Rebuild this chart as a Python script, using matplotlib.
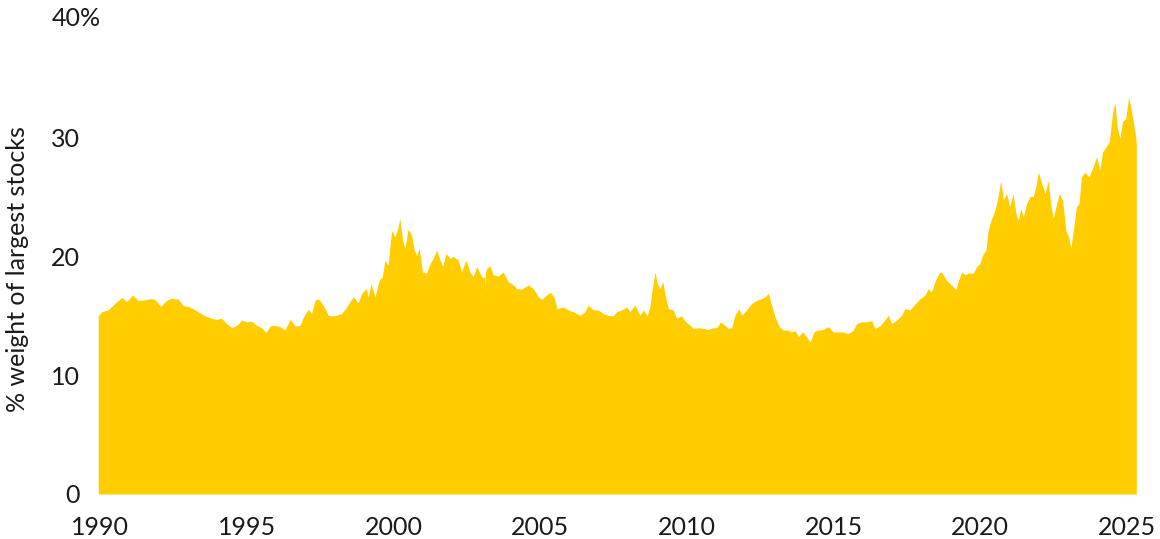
import numpy as np
import matplotlib
matplotlib.use("Agg")
import matplotlib.pyplot as plt
from matplotlib.transforms import blended_transform_factory

plt.rcParams['font.family'] = ['Lato', 'DejaVu Sans']

# % weight of the largest stocks (decimal year, percent)
years_90s = [1989.94, 1990.05, 1990.28, 1990.51, 1990.74, 1990.91, 1991.11, 1991.30, 1991.53, 1991.70,
             1991.87, 1992.07, 1992.27, 1992.44, 1992.67, 1992.84, 1993.01, 1993.24, 1993.41, 1993.58,
             1993.80, 1993.97, 1994.14, 1994.32, 1994.49, 1994.66, 1994.83, 1995.00, 1995.17, 1995.34,
             1995.51, 1995.66, 1995.80, 1995.96, 1996.13, 1996.30, 1996.48, 1996.65, 1996.82, 1996.93,
             1997.10, 1997.21, 1997.33, 1997.44, 1997.61, 1997.78, 1997.89, 1998.07, 1998.23, 1998.41,
             1998.52, 1998.63, 1998.80, 1998.92, 1999.07, 1999.14, 1999.24, 1999.37, 1999.52, 1999.62,
             1999.71, 1999.82, 1999.94]
weight_90s = [15.0, 15.35, 15.5, 16.05, 16.55, 16.2, 16.75, 16.3, 16.35, 16.45,
              16.4, 15.8, 16.3, 16.5, 16.4, 15.85, 15.8, 15.5, 15.25, 15.0,
              14.8, 14.7, 14.8, 14.35, 14.0, 14.2, 14.65, 14.5, 14.55, 14.2,
              14.0, 13.6, 14.15, 14.2, 14.1, 13.8, 14.7, 14.15, 14.2, 14.9,
              15.55, 15.2, 16.3, 16.45, 15.9, 15.05, 15.0, 15.05, 15.2, 15.75,
              16.2, 16.6, 16.1, 16.9, 17.3, 16.6, 17.7, 16.6, 18.05, 18.25,
              19.65, 19.3, 22.2]

years_00s = [2000.05, 2000.13, 2000.22, 2000.31, 2000.39, 2000.50, 2000.62, 2000.71, 2000.79, 2000.88,
             2000.99, 2001.13, 2001.25, 2001.36, 2001.47, 2001.59, 2001.68, 2001.79, 2001.93, 2002.04,
             2002.21, 2002.32, 2002.47, 2002.61, 2002.72, 2002.84, 2003.01, 2003.11, 2003.12, 2003.13,
             2003.18, 2003.29, 2003.40, 2003.57, 2003.74, 2003.91, 2004.09, 2004.20, 2004.37, 2004.60,
             2004.77, 2004.94, 2005.05, 2005.22, 2005.34, 2005.47, 2005.58, 2005.79, 2005.96, 2006.13,
             2006.36, 2006.53, 2006.64, 2006.81, 2006.98, 2007.15, 2007.32, 2007.49, 2007.61, 2007.78,
             2007.95, 2008.06, 2008.23, 2008.40, 2008.52, 2008.65, 2008.74, 2008.82, 2008.92, 2008.99,
             2009.09, 2009.18, 2009.25, 2009.37, 2009.54, 2009.65, 2009.82, 2009.97]
weight_00s = [21.65, 22.2, 23.2, 21.4, 20.7, 22.3, 21.8, 20.55, 20.1, 20.7,
              18.7, 18.6, 19.4, 19.85, 20.55, 19.7, 19.15, 20.25, 19.85, 20.0,
              19.7, 18.7, 19.7, 18.7, 18.3, 19.15, 18.3, 18.2, 16.75, 18.6,
              19.0, 19.2, 18.45, 18.35, 18.7, 17.9, 17.6, 17.3, 17.25, 17.6,
              17.3, 16.6, 16.4, 16.75, 17.0, 16.6, 15.6, 15.75, 15.5, 15.35,
              15.05, 15.35, 15.9, 15.5, 15.5, 15.2, 15.05, 15.0, 15.35, 15.5,
              15.75, 15.35, 15.9, 15.05, 15.5, 15.0, 15.75, 17.2, 18.7, 17.75,
              17.3, 17.9, 16.9, 15.6, 15.5, 14.8, 15.0, 14.5]

years_10s = [2010.11, 2010.22, 2010.39, 2010.56, 2010.73, 2010.90, 2011.02, 2011.15, 2011.30, 2011.41,
             2011.53, 2011.64, 2011.78, 2011.87, 2012.04, 2012.21, 2012.38, 2012.55, 2012.66, 2012.78,
             2012.89, 2013.01, 2013.15, 2013.29, 2013.46, 2013.57, 2013.69, 2013.80, 2013.95, 2014.08,
             2014.20, 2014.33, 2014.48, 2014.65, 2014.82, 2014.99, 2015.16, 2015.33, 2015.50, 2015.67,
             2015.79, 2015.96, 2016.13, 2016.30, 2016.41, 2016.58, 2016.75, 2016.87, 2016.98, 2017.15,
             2017.32, 2017.44, 2017.61, 2017.78, 2017.95, 2018.12, 2018.23, 2018.34, 2018.46, 2018.60,
             2018.68, 2018.85, 2019.02, 2019.17, 2019.25, 2019.37, 2019.48, 2019.59, 2019.76, 2019.88,
             2019.99]
weight_10s = [14.2, 13.95, 14.0, 13.95, 13.85, 14.0, 14.0, 14.5, 14.2, 13.95,
              14.0, 15.05, 15.6, 15.05, 15.5, 16.05, 16.3, 16.45, 16.6, 16.9,
              15.9, 14.9, 14.1, 13.8, 13.8, 13.65, 13.75, 13.25, 13.65, 13.25,
              12.8, 13.65, 13.8, 13.85, 14.1, 13.65, 13.65, 13.65, 13.5, 13.8,
              14.35, 14.5, 14.5, 14.6, 13.95, 14.15, 14.65, 15.05, 14.35, 14.65,
              15.05, 15.6, 15.5, 16.0, 16.45, 16.75, 17.3, 17.0, 17.9, 18.6,
              18.7, 18.0, 17.6, 17.2, 17.9, 18.7, 18.45, 18.6, 18.6, 19.15,
              19.4]

years_20s = [2020.08, 2020.20, 2020.27, 2020.35, 2020.44, 2020.52, 2020.61, 2020.70, 2020.79, 2020.90,
             2021.01, 2021.12, 2021.22, 2021.30, 2021.38, 2021.47, 2021.58, 2021.70, 2021.81, 2021.90,
             2021.98, 2022.10, 2022.21, 2022.32, 2022.40, 2022.49, 2022.58, 2022.70, 2022.81, 2022.92,
             2023.01, 2023.09, 2023.19, 2023.28, 2023.37, 2023.45, 2023.57, 2023.71, 2023.85, 2023.97,
             2024.08, 2024.17, 2024.29, 2024.40, 2024.51, 2024.59, 2024.67, 2024.76, 2024.85, 2024.96,
             2025.06, 2025.15, 2025.23, 2025.30, 2025.32]
weight_20s = [20.1, 20.55, 22.2, 22.9, 23.5, 24.05, 25.05, 26.4, 24.75, 25.3,
              24.2, 25.3, 23.6, 23.05, 24.05, 23.35, 24.45, 25.05, 25.05, 25.9,
              27.1, 26.15, 25.3, 26.4, 24.45, 23.2, 24.2, 25.3, 24.75, 22.2,
              21.65, 20.7, 22.5, 24.2, 24.45, 26.7, 27.1, 26.7, 27.55, 28.4,
              27.3, 28.8, 29.25, 29.65, 32.05, 33.0, 30.9, 29.95, 31.35, 31.6,
              33.45, 32.3, 31.2, 30.1, 29.6]

year_ticks = [1990, 1995, 2000, 2005, 2010, 2015, 2020, 2025]
pct_ticks = [0, 10, 20, 30, 40]

years = np.array(years_90s + years_00s + years_10s + years_20s)
weights = np.array(weight_90s + weight_00s + weight_10s + weight_20s)

yellow = '#FFCD00'
txt = '#1a1a1a'

fig = plt.figure(figsize=(11.6, 5.39), dpi=100)
ax = fig.add_axes([0.07609, 0.08349, 0.9080, 0.88126])

ax.fill_between(years, 0, weights, color=yellow, linewidth=0)

ax.set_xlim(1989.6, 2025.5)
ax.set_ylim(0, 40)
for s in ax.spines.values():
    s.set_visible(False)

ax.set_xticks(year_ticks)
ax.set_xticklabels([str(y) for y in year_ticks])
ax.set_yticks(pct_ticks)
ax.set_yticklabels([str(p) for p in pct_ticks[:-1]] + [''])
ax.tick_params(axis='x', length=0, pad=16, labelsize=18, labelcolor=txt)
ax.tick_params(axis='y', length=0, pad=6, labelsize=18, labelcolor=txt)

# top label carries the % sign and sticks out to the right
tr = blended_transform_factory(fig.transFigure, ax.transData)
ax.text(52 / 1160, 40, '40%', transform=tr, ha='left', va='center', fontsize=18, color=txt)

ax.set_ylabel('% weight of largest stocks', fontsize=18, color=txt)
ax.yaxis.set_label_coords(18 / 1160, 0.5, transform=fig.transFigure)
ax.yaxis.label.set_va('center')

fig.savefig('out.png', dpi=100)
